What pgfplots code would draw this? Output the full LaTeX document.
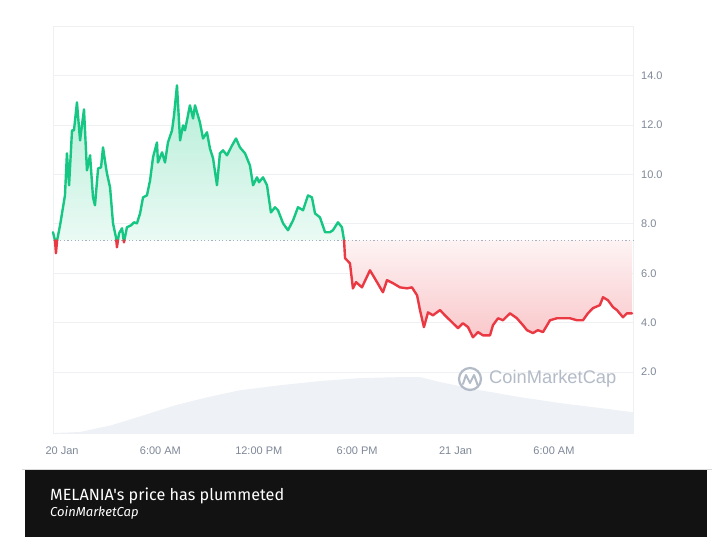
\documentclass[border=0pt]{standalone}
\usepackage{fontspec}
\setmainfont{Liberation Sans}
\newfontfamily\capfont{Fira Sans}
\usepackage{pgfplots}
\pgfplotsset{compat=1.18}
\usepackage{pgfplotstable}

\definecolor{cmcgreen}{HTML}{16C784}
\definecolor{cmcred}{HTML}{EA3943}
\definecolor{gridc}{HTML}{EEF0F3}
\definecolor{framec}{HTML}{EEF0F3}
\definecolor{volc}{HTML}{EEF1F5}
\definecolor{labelc}{HTML}{7F8898}
\definecolor{basec}{HTML}{A9B1BF}
\definecolor{wmc}{HTML}{B3BBC7}
\definecolor{capbg}{HTML}{121212}

% price above the opening level (hours since 20 Jan 00:00, USD)
\pgfplotstableread{
h y
-0.55 7.66
-0.43 7.33
nan nan
-0.30 7.33
-0.12 7.94
0.18 9.15
0.30 10.85
0.43 9.56
0.61 11.78
0.73 11.78
0.91 12.91
1.10 11.37
1.34 12.63
1.52 10.16
1.71 10.77
1.89 9.07
2.01 8.75
2.20 10.24
2.38 10.28
2.50 11.09
2.68 10.28
2.74 10.04
2.93 9.47
3.11 8.02
3.29 7.45
3.31 7.33
nan nan
3.41 7.33
3.48 7.62
3.66 7.82
3.76 7.33
nan nan
3.80 7.33
3.96 7.86
4.21 7.94
4.39 8.06
4.57 8.02
4.76 8.42
4.94 9.07
5.18 9.15
5.37 9.76
5.55 10.69
5.79 11.29
5.85 10.48
6.10 10.89
6.28 10.48
6.46 11.29
6.71 11.78
6.83 12.38
7.01 13.60
7.20 11.37
7.38 11.98
7.50 11.78
7.80 12.79
7.99 12.26
8.11 12.79
8.41 12.10
8.60 11.45
8.84 11.70
9.02 11.05
9.21 10.65
9.45 9.56
9.63 10.85
9.82 10.97
10.06 10.77
10.37 11.17
10.61 11.45
10.85 11.09
11.16 10.85
11.46 10.36
11.65 9.56
11.89 9.88
12.01 9.68
12.26 9.88
12.50 9.56
12.74 8.46
12.99 8.67
13.17 8.55
13.48 8.02
13.78 7.74
14.09 8.14
14.39 8.67
14.70 8.55
15.00 9.15
15.24 9.07
15.43 8.42
15.73 8.26
16.04 7.66
16.34 7.66
16.52 7.74
16.83 8.06
17.07 7.86
17.20 7.33
}\greentab

% price below the opening level
\pgfplotstableread{
h y
-0.43 7.33
-0.37 6.81
-0.30 7.33
nan nan
3.31 7.33
3.35 7.05
3.41 7.33
nan nan
3.76 7.33
3.78 7.25
3.80 7.33
nan nan
17.20 7.33
17.26 6.61
17.56 6.40
17.74 5.39
17.93 5.64
18.29 5.43
18.78 6.12
19.21 5.64
19.57 5.23
19.82 5.72
20.18 5.60
20.61 5.43
21.04 5.39
21.34 5.43
21.65 5.11
21.83 4.51
22.07 3.82
22.32 4.42
22.62 4.30
23.05 4.51
23.35 4.30
23.78 4.02
24.15 3.78
24.45 3.98
24.76 3.82
25.06 3.41
25.37 3.62
25.67 3.49
26.10 3.49
26.28 3.90
26.59 4.18
26.89 4.10
27.32 4.38
27.74 4.18
28.11 3.90
28.35 3.70
28.72 3.58
29.02 3.70
29.33 3.62
29.76 4.10
30.18 4.18
30.55 4.18
30.98 4.18
31.40 4.10
31.77 4.10
32.07 4.38
32.38 4.59
32.80 4.71
32.99 5.03
33.29 4.91
33.60 4.63
33.84 4.51
34.21 4.22
34.45 4.38
34.76 4.38
}\redtab

% same, closed back to the opening level for the shaded area
\pgfplotstableread{
h y
-0.43 7.33
-0.37 6.81
-0.30 7.33
nan nan
3.31 7.33
3.35 7.05
3.41 7.33
nan nan
3.76 7.33
3.78 7.25
3.80 7.33
nan nan
17.20 7.33
17.26 6.61
17.56 6.40
17.74 5.39
17.93 5.64
18.29 5.43
18.78 6.12
19.21 5.64
19.57 5.23
19.82 5.72
20.18 5.60
20.61 5.43
21.04 5.39
21.34 5.43
21.65 5.11
21.83 4.51
22.07 3.82
22.32 4.42
22.62 4.30
23.05 4.51
23.35 4.30
23.78 4.02
24.15 3.78
24.45 3.98
24.76 3.82
25.06 3.41
25.37 3.62
25.67 3.49
26.10 3.49
26.28 3.90
26.59 4.18
26.89 4.10
27.32 4.38
27.74 4.18
28.11 3.90
28.35 3.70
28.72 3.58
29.02 3.70
29.33 3.62
29.76 4.10
30.18 4.18
30.55 4.18
30.98 4.18
31.40 4.10
31.77 4.10
32.07 4.38
32.38 4.59
32.80 4.71
32.99 5.03
33.29 4.91
33.60 4.63
33.84 4.51
34.21 4.22
34.45 4.38
34.76 4.38
34.76 7.33
}\redfilltab

% volume silhouette (in price-axis units)
\pgfplotstableread{
h y
-0.55 -0.46
-0.37 -0.46
1.10 -0.42
3.05 -0.14
5.00 0.26
6.95 0.67
8.90 0.99
10.85 1.27
13.29 1.47
15.73 1.64
18.17 1.76
20.61 1.80
21.83 1.80
23.05 1.60
25.49 1.27
27.93 0.99
30.37 0.75
32.80 0.55
34.82 0.38
34.82 -0.46
}\voltab

\begin{document}
\begin{tikzpicture}
\fill[white] (0pt,0pt) rectangle (720pt,544pt);
\begin{axis}[
  at={(53pt,111pt)}, anchor=south west,
  scale only axis, width=580pt, height=407pt,
  xmin=-0.55, xmax=34.82, ymin=-0.46, ymax=16,
  axis line style={draw=framec, line width=0.8pt},
  major tick length=0pt,
  ymajorgrids, grid style={draw=gridc, line width=0.8pt},
  ytick={2,4,6,8,10,12,14},
  yticklabels={2.0,4.0,6.0,8.0,10.0,12.0,14.0},
  yticklabel pos=right,
  yticklabel style={anchor=west, inner sep=0pt, xshift=8pt},
  xtick={0,6,12,18,24,30},
  xticklabels={20 Jan,6:00 AM,12:00 PM,6:00 PM,21 Jan,6:00 AM},
  xticklabel style={anchor=north, inner sep=0pt, yshift=-14pt},
  tick label style={font=\fontsize{11}{13}\selectfont, text=labelc},
  unbounded coords=jump,
  clip=false,
]
\addplot[draw=none, fill=volc] table {\voltab};
\addplot[draw=none, top color=cmcgreen!32!white, bottom color=cmcgreen!9!white] table {\greentab};
\addplot[draw=none, top color=cmcred!6!white, bottom color=cmcred!28!white] table {\redfilltab};
\addplot[draw=basec, line width=0.9pt, dash pattern=on 1.2pt off 2.4pt] coordinates {(-0.55,7.33) (34.82,7.33)};
\addplot[draw=cmcgreen, line width=2.4pt, line join=round, line cap=round] table {\greentab};
\addplot[draw=cmcred, line width=2.4pt, line join=round, line cap=round] table {\redtab};
\end{axis}
% watermark
\draw[wmc, line width=2.2pt] (470pt,165pt) circle (11pt);
\draw[wmc, line width=2pt, line join=round, line cap=round] (463pt,160pt) -- (466pt,169pt) -- (470pt,161pt) -- (474pt,169pt) -- (478pt,158pt);
\node[anchor=west, inner sep=0pt, text=wmc, font=\fontsize{18.3}{21}\selectfont] at (489pt,165pt) {CoinMarketCap};
% caption box
\draw[draw=black!15, line width=0.6pt] (22pt,75pt) -- (712pt,75pt);
\fill[capbg] (25pt,7pt) rectangle (707pt,74pt);
\node[anchor=base west, inner sep=0pt, text=white, font=\capfont\fontsize{16.2}{19}\selectfont] at (50pt,44pt) {MELANIA's price has plummeted};
\node[anchor=base west, inner sep=0pt, text=white, font=\capfont\itshape\fontsize{13}{15}\selectfont] at (50pt,28pt) {CoinMarketCap};
\end{tikzpicture}
\end{document}
